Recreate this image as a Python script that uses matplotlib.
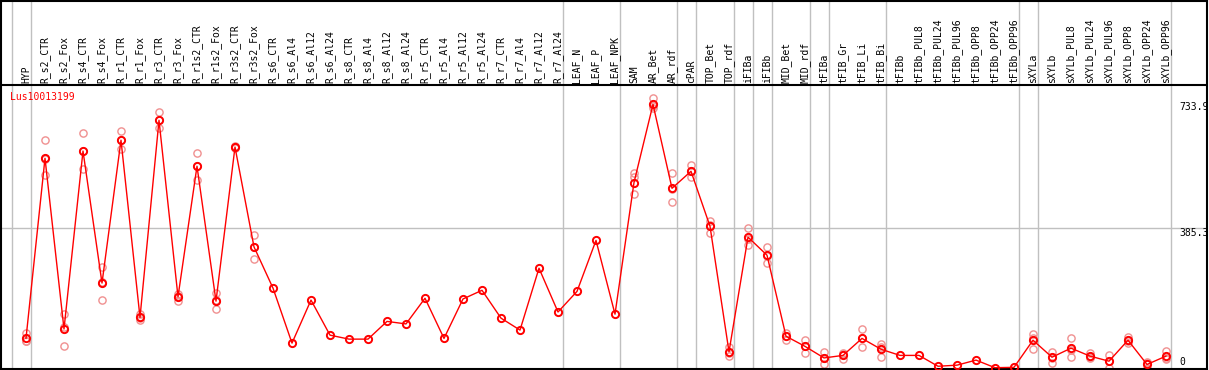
import numpy as np
import matplotlib
matplotlib.use("Agg")
import matplotlib.pyplot as plt

# sample names along the x axis
samples = [
    "HYP", "R_s2_CTR", "R_s2_Fox", "R_s4_CTR", "R_s4_Fox", "R_r1_CTR", "R_r1_Fox",
    "R_r3_CTR", "R_r3_Fox", "R_r1s2_CTR", "R_r1s2_Fox", "R_r3s2_CTR", "R_r3s2_Fox",
    "R_s6_CTR", "R_s6_Al4", "R_s6_Al12", "R_s6_Al24", "R_s8_CTR", "R_s8_Al4",
    "R_s8_Al12", "R_s8_Al24", "R_r5_CTR", "R_r5_Al4", "R_r5_Al12", "R_r5_Al24",
    "R_r7_CTR", "R_r7_Al4", "R_r7_Al12", "R_r7_Al24", "LEAF_N", "LEAF_P", "LEAF_NPK",
    "SAM", "AR_Bet", "AR_rdf", "cPAR", "TOP_Bet", "TOP_rdf", "iFIBa", "iFIBb",
    "MID_Bet", "MID_rdf", "tFIBa", "tFIB_Gr", "tFIB_Li", "tFIB_Bi", "tFIBb",
    "tFIBb_PUL8", "tFIBb_PUL24", "tFIBb_PUL96", "tFIBb_OPP8", "tFIBb_OPP24",
    "tFIBb_OPP96", "sXYLa", "sXYLb", "sXYLb_PUL8", "sXYLb_PUL24", "sXYLb_PUL96",
    "sXYLb_OPP8", "sXYLb_OPP24", "sXYLb_OPP96",
]

# mean expression per sample
means = [
    81, 579, 107, 599, 234, 629, 139, 684, 196, 557, 184, 610, 334,
    220, 68, 187, 90, 79, 79, 128, 121, 192, 81, 190, 214,
    137, 104, 275, 154, 211, 352, 148,
    512, 728, 496, 543, 391, 44, 361, 311,
    87, 59, 27, 34, 81, 51, 34,
    34, 4, 7, 21, 0, 1,
    76, 29, 54, 32, 18, 76, 9, 32,
]

# individual replicates (empty = single value)
replicates = [
    [96, 75, 73], [629, 532, 576], [148, 61, 112], [648, 550, 599], [279, 186, 237],
    [654, 604, 629], [148, 132, 138], [706, 662, 684], [204, 184, 198],
    [593, 520, 558], [206, 161, 186], [614, 610, 607], [366, 300, 335],
    [], [], [], [], [], [], [], [], [], [], [], [], [], [], [], [], [], [], [],
    [538, 526, 480], [745, 717, 723], [537, 457, 493], [560, 526, 543],
    [406, 373, 394], [58, 32, 42], [386, 339, 356], [335, 289, 309],
    [95, 77, 89], [77, 41, 59], [44, 10, 26], [41, 25, 37], [106, 56, 81],
    [65, 30, 57], [],
    [], [], [], [], [], [],
    [93, 51, 83], [44, 14, 28], [82, 29, 50], [40, 26, 29], [35, 0, 18],
    [86, 69, 73], [17, 0, 12], [45, 26, 23],
]

# number of samples in each separated group
group_sizes = [1, 28, 3, 3, 1, 2, 1, 1, 2, 1, 3, 7, 1, 7]

gene = "Lus10013199"
tick_values = [733.9, 385.3]

W, H = 1209, 370
fig = plt.figure(figsize=(W / 100, H / 100), dpi=100)
ax = fig.add_axes([1 / W, 1 / H, 1206 / W, 368 / H])

# pixel geometry: point i sits at x = 26 + 19*i, value 0 at y=367.7, 0.3617 px/unit
step, x0 = 19.0, 26.0
k, y0 = 0.3617, 367.7
ax.set_xlim((1 - x0) / step, (1207 - x0) / step)
ax.set_ylim((y0 - 369) / k, (y0 - 1) / k)
ax.set_xticks([])
ax.set_yticks([])
for s in ax.spines.values():
    s.set_linewidth(1.5)
    s.set_color("black")

font = dict(family="DejaVu Sans Mono", size=7)
x = np.arange(len(samples))

# group separators
edges = np.concatenate([[-1], np.cumsum(group_sizes) - 1]) + 4.5 / step
for e in edges:
    ax.axvline(e, color="#c0c0c0", lw=1.0, zorder=1)

hdr = (y0 - 85) / k
ax.axhline(hdr, color="black", lw=1.5, zorder=3)
ax.axhline(tick_values[1], color="#c0c0c0", lw=1.0, zorder=1)

for i, name in enumerate(samples):
    ax.text(i, (y0 - 83) / k, name, rotation=90, ha="center", va="bottom", **font)

for i, reps in enumerate(replicates):
    if reps:
        ax.plot([i] * len(reps), reps, "o", ms=5.2, mfc="none", mec="#f09090",
                mew=1.0, zorder=2, clip_on=True)

ax.plot(x, means, "-", color="red", lw=1.0, zorder=4)
ax.plot(x, means, "o", ms=5.2, mfc="none", mec="red", mew=1.4, zorder=5)

ax.text((10 - x0) / step, (y0 - 97) / k, gene, color="red", ha="left", va="center", **font)
xr = (1179 - x0) / step
for v in tick_values:
    ax.text(xr, v, f"{v}", ha="left", va="top", **font)
ax.text(xr, 2, "0", ha="left", va="bottom", **font)

fig.savefig("out.png", dpi=100)
